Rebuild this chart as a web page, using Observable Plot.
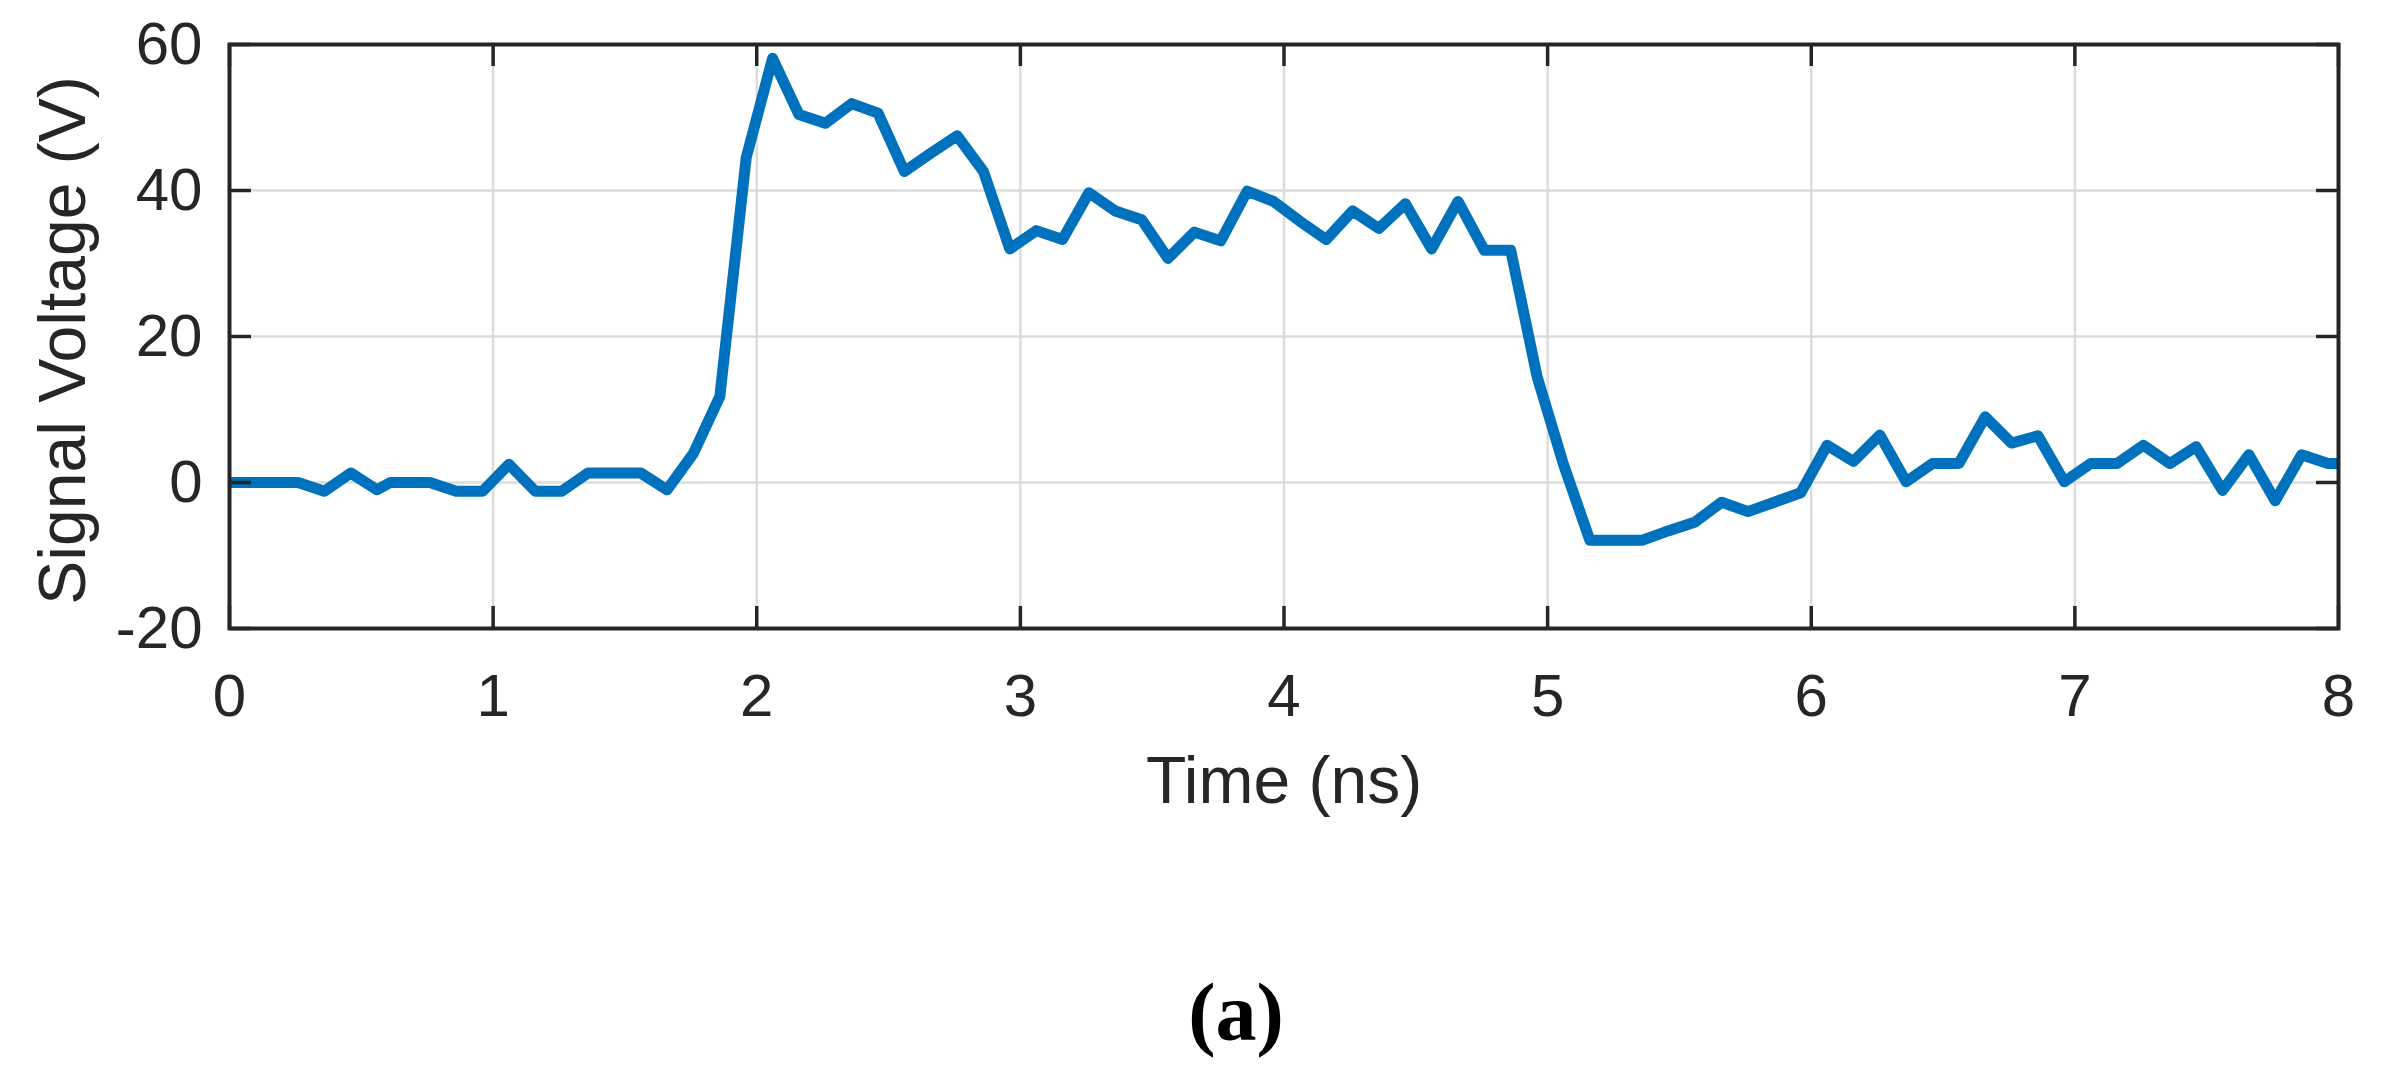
<!DOCTYPE html>
<html>
<head>
<meta charset="utf-8">
<script src="https://cdn.jsdelivr.net/npm/d3@7"></script>
<script src="https://cdn.jsdelivr.net/npm/@observablehq/plot@0.6"></script>
<style>
  html, body { margin: 0; padding: 0; background: #fff; }
  #wrap { position: relative; width: 2394px; height: 1086px; }
  #caption {
    position: absolute; left: 1236px; top: 973px; transform: translateX(-50%);
    font-family: "Liberation Serif", "Times New Roman", serif; font-weight: bold;
    font-size: 82px; line-height: 80px; color: #000; white-space: nowrap;
  }
</style>
</head>
<body>
<div id="wrap"><div id="chart"></div><div id="caption"></div></div>
<script>
// Time samples (ns) and signal voltage (V)
const timeNs = [0, 0.06, 0.16, 0.26, 0.36, 0.46, 0.56, 0.61, 0.76, 0.86, 0.96, 1.06, 1.16, 1.26, 1.36, 1.46, 1.56, 1.66, 1.76, 1.86, 1.96,
  2.06, 2.16, 2.26, 2.36, 2.46, 2.56, 2.66, 2.76, 2.86, 2.96, 3.06, 3.16, 3.26, 3.36, 3.46, 3.56, 3.66, 3.76, 3.86, 3.96,
  4.06, 4.16, 4.26, 4.36, 4.46, 4.56, 4.66, 4.76, 4.86, 4.96, 5.06, 5.16, 5.26, 5.36, 5.46, 5.56, 5.66, 5.76, 5.86, 5.96,
  6.06, 6.16, 6.26, 6.36, 6.46, 6.56, 6.66, 6.76, 6.86, 6.96, 7.06, 7.16, 7.26, 7.36, 7.46, 7.56, 7.66, 7.76, 7.86, 7.96, 8.0];
const voltage = [0, 0, 0, 0, -1.2, 1.3, -1.0, 0, 0, -1.2, -1.2, 2.5, -1.2, -1.2, 1.3, 1.3, 1.3, -1.0, 4.0, 11.8, 44.5,
  58.1, 50.4, 49.2, 51.9, 50.6, 42.6, 45.1, 47.5, 42.6, 32.0, 34.5, 33.3, 39.7, 37.2, 36.0, 30.7, 34.3, 33.1, 39.9, 38.5,
  35.8, 33.3, 37.2, 34.8, 38.2, 32.0, 38.5, 31.8, 31.8, 14.5, 2.5, -7.9, -7.9, -7.9, -6.6, -5.4, -2.7, -4.0, -2.7, -1.4,
  5.1, 2.9, 6.5, 0.1, 2.6, 2.6, 9.0, 5.4, 6.4, 0.1, 2.6, 2.6, 5.1, 2.6, 4.9, -1.1, 3.8, -2.5, 3.8, 2.6, 2.6];
const xTicks = [0, 1, 2, 3, 4, 5, 6, 7, 8];
const yTicks = [-20, 0, 20, 40, 60];
const xLabel = "Time (ns)";
const yLabel = "Signal Voltage (V)";
const captionText = "(a)";

const data = timeNs.map((t, i) => ({t, v: voltage[i]}));

const W = 2394, H = 960;
const mL = 229, mR = 56, mT = 44, mB = 332;
const plotW = W - mL - mR, plotH = H - mT - mB;
const ink = "#262626";
const tickLen = 22;

const chart = Plot.plot({
  width: W, height: H,
  marginLeft: mL, marginRight: mR, marginTop: mT, marginBottom: mB,
  style: {fontFamily: "'Liberation Sans', Arial, Helvetica, sans-serif", background: "#fff"},
  x: {domain: [0, 8]},
  y: {domain: [-20, 60]},
  marks: [
    Plot.gridX(xTicks, {stroke: "#dcdcdc", strokeOpacity: 1, strokeWidth: 2.5}),
    Plot.gridY(yTicks, {stroke: "#dcdcdc", strokeOpacity: 1, strokeWidth: 2.5}),
    Plot.line(data, {x: "t", y: "v", stroke: "#0072BD", strokeWidth: 11, strokeLinejoin: "round", strokeLinecap: "butt"}),
    Plot.tickX(xTicks, {x: d => d, stroke: ink, strokeWidth: 3.5, insetTop: plotH - tickLen}),
    Plot.tickX(xTicks, {x: d => d, stroke: ink, strokeWidth: 3.5, insetBottom: plotH - tickLen}),
    Plot.tickY(yTicks, {y: d => d, stroke: ink, strokeWidth: 3.5, insetRight: plotW - tickLen}),
    Plot.tickY(yTicks, {y: d => d, stroke: ink, strokeWidth: 3.5, insetLeft: plotW - tickLen}),
    Plot.frame({stroke: ink, strokeWidth: 4}),
    Plot.axisX(xTicks, {anchor: "bottom", tickSize: 0, tickPadding: 45, fontSize: 60, color: ink, label: null, tickFormat: d => String(d)}),
    Plot.axisY(yTicks, {anchor: "left", tickSize: 0, tickPadding: 27, fontSize: 60, color: ink, label: null, tickFormat: d => String(d)}),
    Plot.text([xLabel], {text: d => d, frameAnchor: "bottom", textAnchor: "middle", lineAnchor: "top", dy: 128, fontSize: 66, fill: ink}),
    Plot.text([yLabel], {text: d => d, frameAnchor: "left", textAnchor: "middle", lineAnchor: "top", rotate: -90, dx: -191, dy: 4, fontSize: 66, fill: ink})
  ]
});
document.getElementById("chart").appendChild(chart);
document.getElementById("caption").textContent = captionText;
</script>
</body>
</html>
